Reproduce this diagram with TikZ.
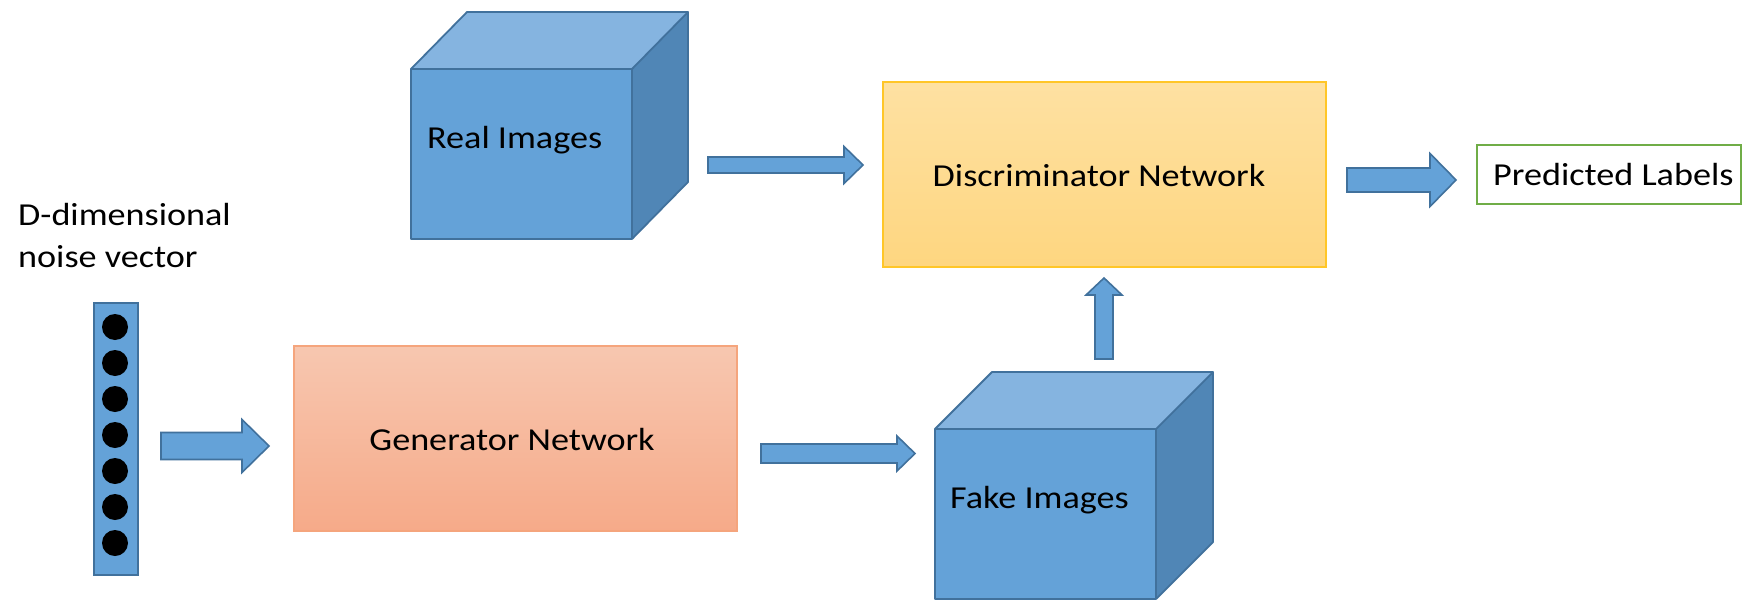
\documentclass[tikz,border=0pt]{standalone}
\usepackage{fontspec}
\setmainfont{Carlito}[FakeStretch=1.13]
\definecolor{cubefront}{RGB}{100,162,216}
\definecolor{cubetop}{RGB}{133,180,224}
\definecolor{cubeside}{RGB}{80,134,182}
\definecolor{cubeline}{RGB}{65,113,156}
\definecolor{gentop}{RGB}{247,199,176}
\definecolor{genbot}{RGB}{246,170,137}
\definecolor{genline}{RGB}{245,165,125}
\definecolor{distop}{RGB}{254,225,162}
\definecolor{disbot}{RGB}{254,214,128}
\definecolor{disline}{RGB}{255,198,40}
\definecolor{predline}{RGB}{112,173,71}
\tikzset{
  lbl/.style={font=\fontsize{32}{38}\selectfont, inner sep=0pt, text=black},
  blk/.style={fill=cubefront, draw=cubeline, line width=1.6pt, line join=miter},
  cubeedge/.style={draw=cubeline, line width=1.8pt, line join=round},
}
% horizontal block arrow: x1, xb (head base), x2 (tip), yc, shaft half, head half
\newcommand{\gbarrowH}[6]{%
  \draw[blk] (#1,#4-#5) -- (#2,#4-#5) -- (#2,#4-#6) -- (#3,#4) -- (#2,#4+#6) -- (#2,#4+#5) -- (#1,#4+#5) -- cycle;}
% vertical up block arrow: y1 (bottom), yb (head base), y2 (tip), xc, shaft half, head half
\newcommand{\gbarrowV}[6]{%
  \draw[blk] (#4-#5,#1) -- (#4-#5,#2) -- (#4-#6,#2) -- (#4,#3) -- (#4+#6,#2) -- (#4+#5,#2) -- (#4+#5,#1) -- cycle;}
% cube: front x0,y0,x1,y1, offset dx,dy(up)
\newcommand{\gbcube}[6]{%
  \fill[cubefront] (#1,#2) rectangle (#3,#4);
  \fill[cubetop] (#1,#2) -- (#1+#5,#2-#6) -- (#3+#5,#2-#6) -- (#3,#2) -- cycle;
  \fill[cubeside] (#3,#2) -- (#3+#5,#2-#6) -- (#3+#5,#4-#6) -- (#3,#4) -- cycle;
  \draw[cubeedge] (#1,#2) rectangle (#3,#4);
  \draw[cubeedge] (#1,#2) -- (#1+#5,#2-#6) -- (#3+#5,#2-#6) -- (#3,#2);
  \draw[cubeedge] (#3+#5,#2-#6) -- (#3+#5,#4-#6) -- (#3,#4);}
\begin{document}
\begin{tikzpicture}[x=1pt,y=-1pt]
\useasboundingbox (0,0) rectangle (1744,602);
\fill[white] (0,0) rectangle (1744,602);

% noise text
\node[lbl, anchor=base west] (dtxt) at (18,225) {D-dimensional};
\node[lbl, anchor=base west] (ntxt) at (18,267) {noise vector};

% noise vector
\node[blk, minimum width=44pt, minimum height=272pt, inner sep=0pt, anchor=north west] (noise) at (93,302) {};
\foreach \i in {0,...,6} {
  \fill[black] (115,327+36*\i) circle (13);
}

% generator
\shade[top color=gentop, bottom color=genbot] (294,346) rectangle (737,531);
\draw[genline, line width=1.5pt] (294,346) rectangle (737,531);
\node[lbl] (gen) at (512,440) {Generator Network};

% discriminator
\shade[top color=distop, bottom color=disbot] (883,82) rectangle (1326,267);
\draw[disline, line width=1.5pt] (883,82) rectangle (1326,267);
\node[lbl] (dis) at (1099,176) {Discriminator Network};

% predicted labels
\draw[predline, line width=2pt] (1477,145) rectangle (1741,204);
\node[lbl, anchor=base west] (pred) at (1493,185) {Predicted Labels};

% cubes
\gbcube{411}{69}{632}{239}{56}{57}
\node[lbl, anchor=base west] (real) at (427,148) {Real Images};
\gbcube{935}{429}{1156}{599}{57}{57}
\node[lbl, anchor=base west] (fake) at (950,508) {Fake Images};

% block arrows
\gbarrowH{161}{242}{269}{446}{13.5}{26.5}
\gbarrowH{708}{844}{863}{165}{8}{18.5}
\gbarrowH{1347}{1430}{1456}{180}{12}{26.5}
\gbarrowH{761}{897}{915}{453.5}{9.5}{17.5}
\gbarrowV{359}{295}{278}{1104}{9}{18}
\end{tikzpicture}
\end{document}
